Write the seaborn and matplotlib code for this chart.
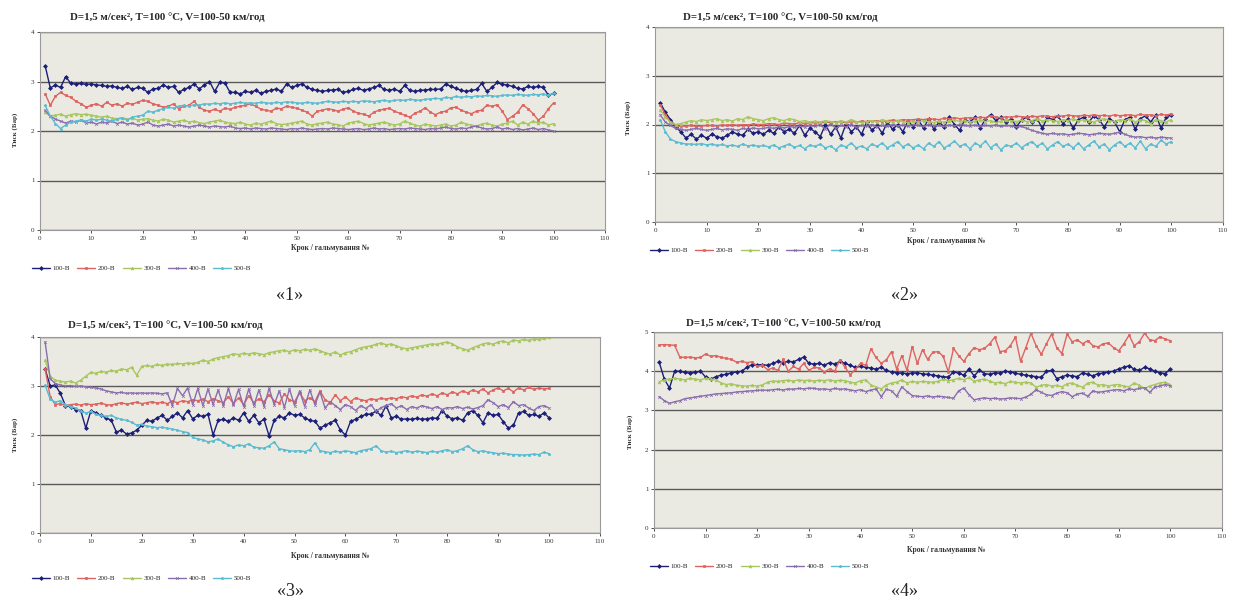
import matplotlib
matplotlib.use("Agg")
import matplotlib.pyplot as plt
from matplotlib.lines import Line2D
import seaborn as sns
import pandas as pd

# ---------------- data ----------------
steps = list(range(1, 101))
series_names = ["100-В", "200-В", "300-В", "400-В", "500-В"]
panel_labels = ["«1»", "«2»", "«3»", "«4»"]
title_text = "D=1,5 м/сек², Т=100 °С, V=100-50 км/год"
xlabel_text = "Крок / гальмування №"
ylabel_text = "Тиск (Бар)"
x_ticks = [0, 10, 20, 30, 40, 50, 60, 70, 80, 90, 100, 110]

p1_100 = [3.32, 2.87, 2.93, 2.88, 3.10, 2.96, 2.95, 2.96, 2.94, 2.95,
          2.93, 2.92, 2.90, 2.91, 2.88, 2.86, 2.90, 2.84, 2.88, 2.86,
          2.78, 2.85, 2.86, 2.93, 2.88, 2.90, 2.78, 2.84, 2.88, 2.95,
          2.85, 2.93, 3.00, 2.80, 2.98, 2.97, 2.78, 2.78, 2.75, 2.80,
          2.78, 2.82, 2.76, 2.80, 2.82, 2.85, 2.80, 2.95, 2.88, 2.92,
          2.95, 2.88, 2.84, 2.82, 2.80, 2.82, 2.83, 2.84, 2.78, 2.80,
          2.84, 2.86, 2.82, 2.85, 2.88, 2.92, 2.84, 2.82, 2.85, 2.80,
          2.92, 2.82, 2.80, 2.82, 2.83, 2.84, 2.84, 2.85, 2.95, 2.90,
          2.86, 2.82, 2.80, 2.82, 2.84, 2.96, 2.80, 2.88, 2.98, 2.94,
          2.93, 2.90, 2.86, 2.85, 2.90, 2.88, 2.90, 2.88, 2.72, 2.76]
p1_200 = [2.75, 2.52, 2.70, 2.78, 2.72, 2.68, 2.60, 2.55, 2.48, 2.52,
          2.55, 2.50, 2.58, 2.52, 2.55, 2.50, 2.56, 2.54, 2.58, 2.62,
          2.60, 2.55, 2.52, 2.48, 2.50, 2.55, 2.45, 2.50, 2.52, 2.60,
          2.48, 2.42, 2.40, 2.44, 2.40, 2.46, 2.44, 2.48, 2.50, 2.52,
          2.55, 2.50, 2.44, 2.42, 2.40, 2.46, 2.45, 2.50, 2.48, 2.46,
          2.42, 2.38, 2.30, 2.40, 2.42, 2.45, 2.43, 2.40, 2.44, 2.47,
          2.40, 2.36, 2.34, 2.30, 2.38, 2.42, 2.44, 2.46, 2.40, 2.36,
          2.32, 2.28, 2.36, 2.40, 2.47, 2.38, 2.33, 2.38, 2.40, 2.47,
          2.48, 2.42, 2.38, 2.35, 2.40, 2.42, 2.52, 2.50, 2.53, 2.40,
          2.23, 2.30, 2.38, 2.53, 2.45, 2.35, 2.22, 2.30, 2.45, 2.57]
p1_300 = [2.38, 2.30, 2.32, 2.34, 2.30, 2.33, 2.35, 2.33, 2.34, 2.32,
          2.30, 2.28, 2.30, 2.26, 2.25, 2.27, 2.24, 2.26, 2.22, 2.24,
          2.25, 2.22, 2.20, 2.24, 2.22, 2.18, 2.20, 2.22, 2.18, 2.20,
          2.17, 2.15, 2.18, 2.20, 2.22, 2.18, 2.16, 2.15, 2.18, 2.14,
          2.12, 2.16, 2.14, 2.17, 2.20, 2.15, 2.13, 2.14, 2.16, 2.18,
          2.20, 2.14, 2.12, 2.15, 2.16, 2.18, 2.14, 2.13, 2.10, 2.16,
          2.18, 2.20, 2.15, 2.12, 2.14, 2.16, 2.18, 2.15, 2.12, 2.14,
          2.20, 2.16, 2.12, 2.10, 2.14, 2.12, 2.10, 2.12, 2.14, 2.10,
          2.12, 2.18, 2.14, 2.12, 2.10, 2.14, 2.16, 2.12, 2.10, 2.14,
          2.16, 2.20, 2.12, 2.18, 2.14, 2.20, 2.16, 2.18, 2.12, 2.15]
p1_400 = [2.42, 2.30, 2.24, 2.20, 2.16, 2.20, 2.18, 2.22, 2.16, 2.18,
          2.14, 2.18, 2.16, 2.20, 2.15, 2.18, 2.14, 2.16, 2.12, 2.14,
          2.18, 2.12, 2.10, 2.12, 2.14, 2.10, 2.12, 2.10, 2.08, 2.10,
          2.12, 2.10, 2.08, 2.10, 2.09, 2.08, 2.10, 2.06, 2.05, 2.06,
          2.04, 2.06, 2.05, 2.04, 2.06, 2.05, 2.04, 2.03, 2.05, 2.04,
          2.06, 2.04, 2.03, 2.04, 2.05, 2.04, 2.06, 2.05, 2.04, 2.03,
          2.04, 2.05, 2.03, 2.04, 2.06, 2.04, 2.05, 2.03, 2.04, 2.05,
          2.04, 2.06, 2.05, 2.04, 2.03, 2.05, 2.04, 2.06, 2.08, 2.05,
          2.04, 2.06, 2.05, 2.08, 2.10, 2.06, 2.04, 2.05, 2.08, 2.04,
          2.06, 2.03, 2.05, 2.02, 2.04, 2.06, 2.03, 2.05, 2.02, 2.00]
p1_500 = [2.52, 2.30, 2.15, 2.05, 2.12, 2.18, 2.20, 2.22, 2.20, 2.24,
          2.22, 2.24, 2.22, 2.20, 2.24, 2.26, 2.22, 2.28, 2.30, 2.32,
          2.40, 2.38, 2.42, 2.45, 2.48, 2.46, 2.50, 2.52, 2.50, 2.53,
          2.52, 2.55, 2.54, 2.56, 2.55, 2.57, 2.55, 2.56, 2.58, 2.56,
          2.57, 2.56, 2.58, 2.57, 2.56, 2.58, 2.57, 2.59, 2.58, 2.57,
          2.56, 2.58, 2.57, 2.56, 2.58, 2.60, 2.59, 2.58, 2.60, 2.59,
          2.60, 2.59, 2.61, 2.60, 2.59, 2.61, 2.62, 2.60, 2.62, 2.63,
          2.62, 2.64, 2.63, 2.62, 2.64, 2.65, 2.66, 2.65, 2.68, 2.67,
          2.70, 2.68, 2.70, 2.69, 2.71, 2.70, 2.72, 2.71, 2.70, 2.72,
          2.73, 2.72, 2.74, 2.73, 2.72, 2.74, 2.73, 2.75, 2.72, 2.76]

p2_100 = [2.45, 2.25, 2.10, 1.95, 1.85, 1.72, 1.80, 1.70, 1.78, 1.72,
          1.80, 1.75, 1.72, 1.78, 1.85, 1.80, 1.78, 1.90, 1.82, 1.85,
          1.80, 1.88, 1.82, 1.95, 1.85, 1.90, 1.82, 1.98, 1.78, 1.92,
          1.85, 1.75, 2.00, 1.80, 1.95, 1.72, 2.02, 1.85, 1.95, 1.80,
          2.05, 1.88, 1.98, 1.82, 2.05, 1.90, 2.00, 1.85, 2.08, 1.95,
          2.10, 1.92, 2.12, 1.90, 2.05, 1.95, 2.15, 2.00, 1.88, 2.10,
          2.05, 2.15, 1.92, 2.12, 2.20, 2.08, 2.15, 2.05, 2.12, 1.95,
          2.10, 2.15, 2.05, 2.12, 1.92, 2.15, 2.10, 2.18, 2.02, 2.12,
          1.92, 2.10, 2.15, 2.05, 2.18, 2.10, 1.95, 2.12, 2.05, 1.85,
          2.10, 2.15, 1.90, 2.12, 2.18, 2.05, 2.20, 1.92, 2.15, 2.20]
p2_200 = [2.40, 2.20, 2.05, 1.98, 1.96, 1.97, 1.98, 1.96, 1.97, 1.98,
          1.98, 1.97, 1.99, 1.98, 2.00, 1.98, 2.00, 1.99, 2.01, 2.00,
          2.00, 2.02, 2.01, 2.00, 2.03, 2.02, 2.01, 2.04, 2.02, 2.03,
          2.04, 2.03, 2.05, 2.04, 2.06, 2.05, 2.04, 2.06, 2.05, 2.07,
          2.06, 2.08, 2.07, 2.06, 2.08, 2.09, 2.08, 2.10, 2.09, 2.10,
          2.11, 2.10, 2.12, 2.11, 2.10, 2.13, 2.12, 2.14, 2.12, 2.13,
          2.14, 2.13, 2.15, 2.14, 2.18, 2.15, 2.14, 2.16, 2.15, 2.17,
          2.16, 2.15, 2.17, 2.16, 2.18, 2.17, 2.16, 2.18, 2.17, 2.19,
          2.18, 2.17, 2.19, 2.18, 2.20, 2.18, 2.19, 2.17, 2.20, 2.18,
          2.19, 2.20, 2.18, 2.21, 2.19, 2.20, 2.18, 2.21, 2.19, 2.22]
p2_300 = [2.30, 2.15, 2.05, 2.00, 2.02, 2.05, 2.08, 2.06, 2.10, 2.08,
          2.10, 2.12, 2.08, 2.10, 2.07, 2.12, 2.10, 2.16, 2.12, 2.10,
          2.08, 2.12, 2.14, 2.10, 2.08, 2.12, 2.10, 2.06, 2.08, 2.05,
          2.07, 2.05, 2.08, 2.06, 2.04, 2.08, 2.05, 2.10, 2.06, 2.04,
          2.06, 2.08, 2.05, 2.10, 2.07, 2.05, 2.08, 2.06, 2.04, 2.07,
          2.05, 2.08, 2.06, 2.04, 2.07, 2.05, 2.08, 2.10, 2.06, 2.08,
          2.05, 2.07, 2.10, 2.06, 2.08, 2.04, 2.07, 2.10, 2.08, 2.06,
          2.09, 2.06, 2.08, 2.12, 2.07, 2.10, 2.08, 2.06, 2.10, 2.08,
          2.12, 2.07, 2.10, 2.08, 2.05, 2.10, 2.12, 2.08, 2.06, 2.10,
          2.08, 2.12, 2.05, 2.10, 2.08, 2.02, 2.10, 2.08, 2.05, 2.10]
p2_400 = [2.20, 2.05, 1.98, 1.92, 1.90, 1.88, 1.90, 1.92, 1.90, 1.88,
          1.90, 1.92, 1.89, 1.91, 1.90, 1.88, 1.92, 1.90, 1.93, 1.91,
          1.92, 1.94, 1.92, 1.95, 1.93, 1.96, 1.94, 1.97, 1.95, 1.98,
          1.96, 2.00, 1.90, 2.02, 1.92, 1.98, 1.95, 2.00, 1.94, 1.98,
          1.96, 2.00, 1.95, 1.98, 1.96, 2.00, 1.97, 1.99, 1.96, 2.00,
          1.98, 1.96, 2.00, 1.97, 1.98, 1.96, 1.99, 1.97, 2.00, 1.98,
          1.97, 1.99, 1.96, 1.98, 1.97, 1.99, 1.96, 1.98, 1.97, 1.95,
          1.96, 1.92, 1.88, 1.85, 1.82, 1.80, 1.82, 1.80, 1.81, 1.79,
          1.80, 1.82, 1.81, 1.79, 1.80, 1.82, 1.81, 1.80, 1.82, 1.84,
          1.80, 1.76, 1.74, 1.75, 1.73, 1.74, 1.72, 1.74, 1.73, 1.72]
p2_500 = [2.10, 1.85, 1.70, 1.65, 1.62, 1.60, 1.60, 1.59, 1.61, 1.58,
          1.60, 1.57, 1.59, 1.56, 1.58, 1.55, 1.60, 1.56, 1.58, 1.55,
          1.57, 1.54, 1.58, 1.52, 1.56, 1.60, 1.53, 1.57, 1.50, 1.58,
          1.55, 1.60, 1.52, 1.56, 1.48, 1.58, 1.54, 1.62, 1.52, 1.56,
          1.50, 1.60, 1.55, 1.62, 1.52, 1.58, 1.65, 1.54, 1.60, 1.52,
          1.58, 1.50, 1.62, 1.55, 1.65, 1.52, 1.58, 1.66, 1.55, 1.60,
          1.50, 1.62, 1.56, 1.66, 1.52, 1.60, 1.48, 1.58, 1.55, 1.62,
          1.52, 1.60, 1.65, 1.55, 1.62, 1.50, 1.58, 1.65, 1.55, 1.60,
          1.52, 1.62, 1.50, 1.58, 1.66, 1.54, 1.60, 1.48, 1.58, 1.65,
          1.55, 1.62, 1.52, 1.66, 1.50, 1.60, 1.55, 1.68, 1.60, 1.65]

p3_100 = [3.35, 3.00, 3.02, 2.85, 2.60, 2.58, 2.52, 2.50, 2.14, 2.50,
          2.45, 2.40, 2.35, 2.30, 2.06, 2.10, 2.02, 2.04, 2.10, 2.20,
          2.30, 2.28, 2.35, 2.40, 2.30, 2.38, 2.45, 2.35, 2.50, 2.33,
          2.40, 2.38, 2.42, 2.00, 2.30, 2.32, 2.28, 2.35, 2.30, 2.45,
          2.28, 2.40, 2.25, 2.32, 1.98, 2.30, 2.38, 2.35, 2.45, 2.40,
          2.42, 2.35, 2.30, 2.28, 2.14, 2.20, 2.25, 2.30, 2.10, 2.00,
          2.28, 2.32, 2.38, 2.42, 2.43, 2.48, 2.40, 2.60, 2.35, 2.38,
          2.32, 2.33, 2.32, 2.34, 2.32, 2.33, 2.35, 2.34, 2.50, 2.38,
          2.33, 2.35, 2.30, 2.45, 2.50, 2.40, 2.25, 2.45, 2.40, 2.42,
          2.27, 2.14, 2.20, 2.45, 2.48, 2.40, 2.42, 2.38, 2.45, 2.35]
p3_200 = [3.35, 2.78, 2.62, 2.64, 2.60, 2.62, 2.63, 2.61, 2.64, 2.62,
          2.63, 2.65, 2.62, 2.61, 2.64, 2.66, 2.63, 2.65, 2.67, 2.64,
          2.66, 2.68, 2.65, 2.67, 2.64, 2.69, 2.66, 2.70, 2.68, 2.72,
          2.70, 2.73, 2.68, 2.74, 2.70, 2.66, 2.78, 2.64, 2.76, 2.62,
          2.80, 2.66, 2.74, 2.68, 2.82, 2.70, 2.65, 2.84, 2.72, 2.68,
          2.86, 2.70, 2.76, 2.68, 2.90, 2.72, 2.66, 2.82, 2.70, 2.78,
          2.68, 2.76, 2.72, 2.70, 2.74, 2.72, 2.75, 2.73, 2.76, 2.74,
          2.78, 2.76, 2.80, 2.77, 2.82, 2.79, 2.84, 2.80, 2.86, 2.82,
          2.88, 2.84, 2.90, 2.86, 2.92, 2.88, 2.94, 2.86, 2.92, 2.96,
          2.90, 2.95, 2.88, 2.96, 2.92, 2.97, 2.93, 2.96, 2.94, 2.95]
p3_300 = [3.53, 3.20, 3.12, 3.10, 3.08, 3.10, 3.06, 3.12, 3.20, 3.28,
          3.26, 3.30, 3.28, 3.32, 3.30, 3.35, 3.33, 3.38, 3.22, 3.40,
          3.42, 3.40, 3.44, 3.42, 3.45, 3.44, 3.46, 3.45, 3.47, 3.46,
          3.48, 3.53, 3.50, 3.55, 3.58, 3.60, 3.62, 3.66, 3.64, 3.67,
          3.65, 3.68, 3.66, 3.64, 3.68, 3.70, 3.72, 3.73, 3.70, 3.74,
          3.72, 3.75, 3.73, 3.76, 3.72, 3.68, 3.65, 3.70, 3.63, 3.68,
          3.70, 3.74, 3.78, 3.80, 3.82, 3.85, 3.88, 3.84, 3.86, 3.82,
          3.78, 3.76, 3.78, 3.80, 3.82, 3.84, 3.86, 3.85, 3.88, 3.90,
          3.86, 3.80, 3.76, 3.73, 3.78, 3.82, 3.86, 3.88, 3.85, 3.90,
          3.92, 3.88, 3.94, 3.92, 3.95, 3.93, 3.96, 3.95, 3.97, 4.00]
p3_400 = [3.90, 3.15, 3.05, 3.02, 3.00, 3.01, 2.99, 3.00, 2.98, 2.97,
          2.96, 2.94, 2.90, 2.88, 2.86, 2.87, 2.85, 2.86, 2.85, 2.86,
          2.85, 2.86, 2.85, 2.84, 2.86, 2.60, 2.95, 2.80, 2.96, 2.62,
          2.95, 2.60, 2.94, 2.62, 2.92, 2.60, 2.95, 2.62, 2.93, 2.58,
          2.94, 2.60, 2.92, 2.58, 2.95, 2.62, 2.90, 2.56, 2.94, 2.60,
          2.90, 2.58, 2.92, 2.62, 2.88, 2.55, 2.68, 2.60, 2.52, 2.62,
          2.58, 2.50, 2.60, 2.54, 2.62, 2.48, 2.56, 2.60, 2.64, 2.55,
          2.60, 2.52, 2.58, 2.55, 2.60, 2.57, 2.54, 2.58, 2.52, 2.56,
          2.55, 2.58, 2.54, 2.57, 2.53, 2.56, 2.60, 2.72, 2.66, 2.58,
          2.62, 2.56, 2.68, 2.60, 2.62, 2.55, 2.50, 2.58, 2.60, 2.55]
p3_500 = [3.02, 2.73, 2.67, 2.70, 2.62, 2.58, 2.55, 2.48, 2.45, 2.48,
          2.42, 2.40, 2.38, 2.40, 2.35, 2.32, 2.30, 2.26, 2.20, 2.22,
          2.18, 2.17, 2.15, 2.16, 2.14, 2.12, 2.10, 2.07, 2.05, 1.95,
          1.92, 1.90, 1.86, 1.88, 1.92, 1.85, 1.80, 1.76, 1.80, 1.78,
          1.82, 1.75, 1.74, 1.73, 1.78, 1.86, 1.72, 1.70, 1.68, 1.67,
          1.68, 1.66, 1.70, 1.84, 1.68, 1.66, 1.64, 1.67, 1.65, 1.68,
          1.66, 1.64, 1.68, 1.70, 1.72, 1.78, 1.68, 1.65, 1.67, 1.64,
          1.66, 1.68, 1.65, 1.67, 1.66, 1.64, 1.67, 1.65, 1.68, 1.70,
          1.66, 1.68, 1.72, 1.78, 1.70, 1.66, 1.68, 1.65, 1.64, 1.62,
          1.63, 1.61, 1.60, 1.60, 1.59, 1.60, 1.61, 1.60, 1.65, 1.62]

p4_100 = [4.23, 3.80, 3.57, 4.00, 4.00, 3.97, 3.95, 3.97, 4.00, 3.85,
          3.80, 3.86, 3.90, 3.92, 3.96, 3.98, 4.00, 4.10, 4.17, 4.16,
          4.17, 4.15, 4.20, 4.25, 4.22, 4.25, 4.24, 4.30, 4.36, 4.20,
          4.18, 4.20, 4.15, 4.22, 4.18, 4.25, 4.20, 4.15, 4.10, 4.12,
          4.10, 4.08, 4.05, 4.10, 4.02, 3.98, 3.96, 3.95, 3.94, 3.95,
          3.96, 3.93, 3.92, 3.90, 3.88, 3.86, 3.85, 3.98, 3.95, 3.90,
          4.06, 3.88, 4.02, 3.94, 3.92, 3.96, 3.95, 4.00, 3.98, 3.95,
          3.92, 3.90, 3.88, 3.86, 3.84, 4.00, 4.02, 3.81, 3.86, 3.90,
          3.88, 3.86, 3.96, 3.92, 3.88, 3.94, 3.95, 3.98, 4.00, 4.06,
          4.10, 4.14, 4.05, 4.02, 4.10, 4.06, 4.00, 3.96, 3.94, 4.06]
p4_200 = [4.67, 4.68, 4.67, 4.66, 4.36, 4.35, 4.36, 4.34, 4.35, 4.44,
          4.38, 4.40, 4.35, 4.33, 4.30, 4.23, 4.25, 4.22, 4.24, 4.12,
          4.15, 4.04, 4.08, 4.02, 4.30, 4.00, 4.12, 4.05, 4.20, 4.02,
          4.10, 4.08, 3.98, 4.06, 4.00, 4.29, 4.10, 3.91, 4.05, 4.20,
          4.15, 4.57, 4.35, 4.20, 4.29, 4.50, 4.05, 4.40, 4.02, 4.63,
          4.20, 4.55, 4.30, 4.48, 4.50, 4.38, 3.98, 4.58, 4.40, 4.25,
          4.45, 4.60, 4.55, 4.58, 4.70, 4.87, 4.50, 4.52, 4.65, 4.87,
          4.25, 4.60, 4.97, 4.65, 4.43, 4.70, 4.95, 4.60, 4.45, 4.95,
          4.75, 4.80, 4.70, 4.78, 4.65, 4.62, 4.70, 4.72, 4.60, 4.52,
          4.70, 4.92, 4.65, 4.75, 4.97, 4.80, 4.78, 4.88, 4.82, 4.78]
p4_300 = [3.73, 3.78, 3.80, 3.82, 3.80, 3.78, 3.82, 3.80, 3.78, 3.82,
          3.80, 3.78, 3.70, 3.66, 3.68, 3.64, 3.63, 3.62, 3.64, 3.62,
          3.65, 3.72, 3.75, 3.74, 3.76, 3.77, 3.75, 3.78, 3.76, 3.77,
          3.75, 3.77, 3.76, 3.78, 3.75, 3.77, 3.76, 3.72, 3.70, 3.76,
          3.78, 3.65, 3.60, 3.55, 3.65, 3.70, 3.72, 3.78, 3.70, 3.74,
          3.72, 3.74, 3.73, 3.72, 3.74, 3.80, 3.76, 3.78, 3.82, 3.78,
          3.84, 3.74, 3.78, 3.80, 3.75, 3.70, 3.72, 3.68, 3.74, 3.72,
          3.70, 3.72, 3.70, 3.59, 3.64, 3.66, 3.62, 3.64, 3.60, 3.68,
          3.70, 3.64, 3.59, 3.70, 3.72, 3.64, 3.66, 3.62, 3.65, 3.66,
          3.62, 3.60, 3.70, 3.64, 3.56, 3.62, 3.66, 3.70, 3.72, 3.66]
p4_400 = [3.35, 3.25, 3.18, 3.22, 3.25, 3.30, 3.32, 3.34, 3.36, 3.38,
          3.40, 3.42, 3.43, 3.44, 3.45, 3.47, 3.48, 3.49, 3.50, 3.51,
          3.52, 3.51, 3.53, 3.54, 3.52, 3.55, 3.54, 3.56, 3.55, 3.57,
          3.56, 3.54, 3.55, 3.53, 3.56, 3.54, 3.55, 3.52, 3.50, 3.53,
          3.48, 3.52, 3.55, 3.35, 3.54, 3.50, 3.36, 3.60, 3.48, 3.38,
          3.36, 3.35, 3.37, 3.34, 3.36, 3.35, 3.33, 3.31, 3.50, 3.57,
          3.40, 3.27, 3.30, 3.32, 3.30, 3.31, 3.29, 3.30, 3.32, 3.31,
          3.30, 3.34, 3.41, 3.53, 3.46, 3.40, 3.38, 3.44, 3.48, 3.45,
          3.35, 3.42, 3.44, 3.36, 3.50, 3.46, 3.48, 3.50, 3.52, 3.53,
          3.50, 3.55, 3.53, 3.56, 3.58, 3.46, 3.60, 3.62, 3.66, 3.63]
p4_500 = []  # listed in legend, no visible line

panels = [
    [p1_100, p1_200, p1_300, p1_400, p1_500],
    [p2_100, p2_200, p2_300, p2_400, p2_500],
    [p3_100, p3_200, p3_300, p3_400, p3_500],
    [p4_100, p4_200, p4_300, p4_400, p4_500],
]
y_max = [4, 4, 4, 5]

# ---------------- style ----------------
colors = ["#1B1F78", "#DE6360", "#A8C65E", "#8A6DAE", "#5ABCD2"]
markers = ["D", "s", "^", "x", "*"]

sns.set_theme(style="white")
plt.rcParams["font.family"] = ["Liberation Serif", "DejaVu Serif"]

fig = plt.figure(figsize=(12.46, 6.03), dpi=100)
W, H = 1246.0, 603.0

# axes boxes in pixels: (left, right, top, bottom)
boxes = [(40, 605, 32, 230), (655, 1223, 27, 222),
         (40, 600, 337, 533), (654, 1222, 332, 528)]
title_pos = [(167, 17), (780, 17), (165, 325), (783, 323)]
ylab_pos = [(15, 130), (628, 118), (15, 435), (630, 432)]
xlab_pos = [(330, 248), (946, 241), (330, 556), (946, 550)]
leg_pos = [(32, 268), (650, 250), (32, 578), (650, 566)]
num_pos = [(290, 296), (905, 296), (290, 591), (905, 592)]

for i, (vals_list, box) in enumerate(zip(panels, boxes)):
    l, r, t, b = box
    ax = fig.add_axes([l / W, 1 - b / H, (r - l) / W, (b - t) / H])
    ax.set_facecolor("#EBEAE2")
    for name, vals, c, m in zip(series_names, vals_list, colors, markers):
        if len(vals) == 0:
            continue
        df = pd.DataFrame({"step": steps[:len(vals)], "value": vals})
        sns.lineplot(data=df, x="step", y="value", ax=ax, color=c,
                     marker=m, markersize=2.0, markeredgecolor=c,
                     markeredgewidth=0.5, linewidth=1.0, legend=False)
    ax.set_xlim(0, 110)
    ax.set_ylim(0, y_max[i])
    ax.set_xticks(x_ticks)
    ax.set_yticks(range(0, y_max[i] + 1))
    ax.set_xlabel("")
    ax.set_ylabel("")
    ax.yaxis.grid(True, color="#5A5A5A", linewidth=1.0)
    ax.set_axisbelow(True)
    ax.tick_params(axis="both", labelsize=5, colors="#333333",
                   length=2, width=0.6, pad=2)
    ax.tick_params(axis="both", which="both", direction="out")
    ax.xaxis.set_ticks_position("bottom")
    ax.yaxis.set_ticks_position("left")
    for sp in ax.spines.values():
        sp.set_color("#9A9A9A")
        sp.set_linewidth(0.8)

    fig.text(title_pos[i][0] / W, 1 - title_pos[i][1] / H, title_text,
             ha="center", va="center", fontsize=7.8, fontweight="bold")
    fig.text(ylab_pos[i][0] / W, 1 - ylab_pos[i][1] / H, ylabel_text,
             ha="center", va="center", rotation=90, fontsize=5,
             fontweight="bold", color="#333333")
    fig.text(xlab_pos[i][0] / W, 1 - xlab_pos[i][1] / H, xlabel_text,
             ha="center", va="center", fontsize=5.5, fontweight="bold",
             color="#333333")
    handles = [Line2D([0], [0], color=c, marker=m, markersize=2.0,
                      markeredgecolor=c, markeredgewidth=0.5, linewidth=1.0)
               for c, m in zip(colors, markers)]
    fig.legend(handles, series_names, loc="center left",
               bbox_to_anchor=(leg_pos[i][0] / W, 1 - leg_pos[i][1] / H),
               ncol=5, frameon=False, fontsize=5, handlelength=2.6,
               columnspacing=1.0, handletextpad=0.4, borderaxespad=0,
               borderpad=0)
    fig.text(num_pos[i][0] / W, 1 - num_pos[i][1] / H, panel_labels[i],
             ha="center", va="center", fontsize=13,
             family=["Liberation Serif", "DejaVu Serif"])

fig.savefig("out.png", dpi=100, facecolor="white")
